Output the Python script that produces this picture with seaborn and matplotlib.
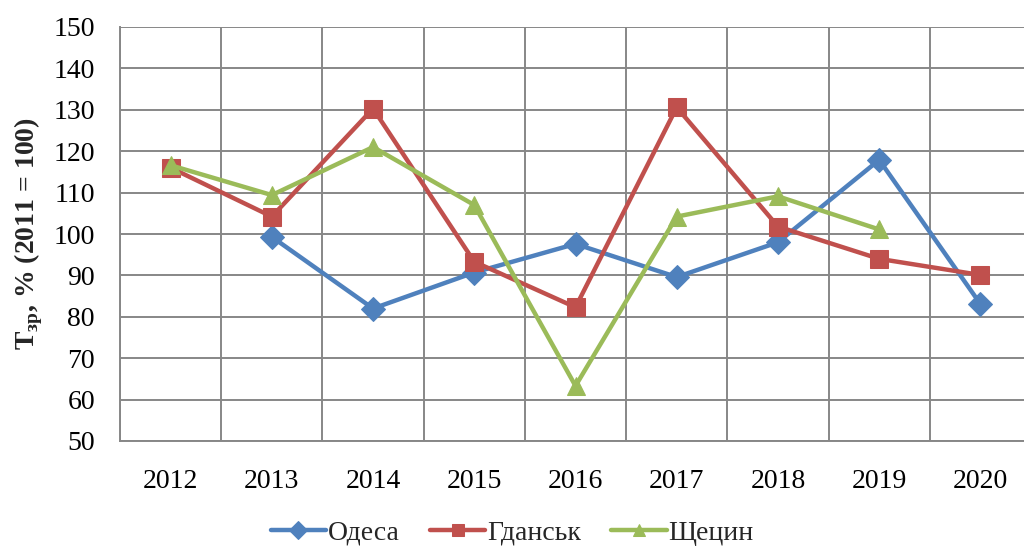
import numpy as np
import pandas as pd
import matplotlib
matplotlib.use("Agg")
import matplotlib.pyplot as plt
import seaborn as sns

years = ["2012", "2013", "2014", "2015", "2016", "2017", "2018", "2019", "2020"]
odesa = [np.nan, 99.3, 82.0, 90.7, 97.6, 89.6, 98.0, 117.9, 83.1]
gdansk = [116.0, 104.2, 130.3, 93.3, 82.3, 130.6, 101.8, 94.0, 90.1]
szczecin = [116.6, 109.4, 121.0, 107.0, 63.3, 104.2, 109.1, 101.1, np.nan]
series_names = ["Одеса", "Гданськ", "Щецин"]
colors = ["#4F81BD", "#C0504D", "#9BBB59"]
markers = ["D", "s", "^"]
msizes = [12, 13, 13]

sns.set_theme(style="white")
plt.rcParams['font.family'] = ['Liberation Serif', 'DejaVu Serif']

fig = plt.figure(figsize=(10.24, 5.49), dpi=100)
ax = fig.add_axes([120/1024, (549-441)/549, 911/1024, 414/549])

x = np.arange(len(years))
for name, vals, c, m, ms in zip(series_names, [odesa, gdansk, szczecin], colors, markers, msizes):
    df = pd.DataFrame({"x": x, "y": vals}).dropna()
    sns.lineplot(data=df, x="x", y="y", ax=ax, color=c, marker=m, markersize=ms,
                 markeredgecolor=c, linewidth=3.2, label=name)

ax.set_xlim(-0.5, len(years) - 0.5)
ax.set_ylim(50, 150)
ax.set_yticks(np.arange(50, 151, 10))
ax.set_xticks(x)
ax.set_xticklabels(years)
ax.set_xticks(np.arange(-0.5, len(years), 1), minor=True)
ax.grid(False)
ax.grid(True, axis="y", which="major", color="#878787", linewidth=1.4)
ax.grid(True, axis="x", which="minor", color="#878787", linewidth=1.4)
ax.tick_params(axis="x", which="major", length=0, labelsize=20, pad=20, colors="black")
ax.tick_params(axis="x", which="minor", length=8, width=1.4, color="#878787", direction="out")
ax.tick_params(axis="y", which="major", length=6, width=1.4, color="#878787", labelsize=20, pad=12,
               labelcolor="black", direction="out")
for s in ["top", "right"]:
    ax.spines[s].set_visible(False)
for s in ["left", "bottom"]:
    ax.spines[s].set_color("#878787")
    ax.spines[s].set_linewidth(1.4)
ax.set_xlabel("")
ax.set_ylabel(r"Т$_{\mathregular{зр}}$, % (2011 = 100)", fontsize=20, fontweight="bold", labelpad=6)

leg = ax.legend(loc="lower center", ncol=3, frameon=False,
                fontsize=20, handlelength=2.0, columnspacing=1.1, handletextpad=0.05,
                borderpad=0.0, borderaxespad=0.0,
                bbox_to_anchor=(0.5, 0.006), bbox_transform=fig.transFigure)
for h in leg.legend_handles:
    h.set_markersize(9)

fig.savefig("out.png", dpi=100)
